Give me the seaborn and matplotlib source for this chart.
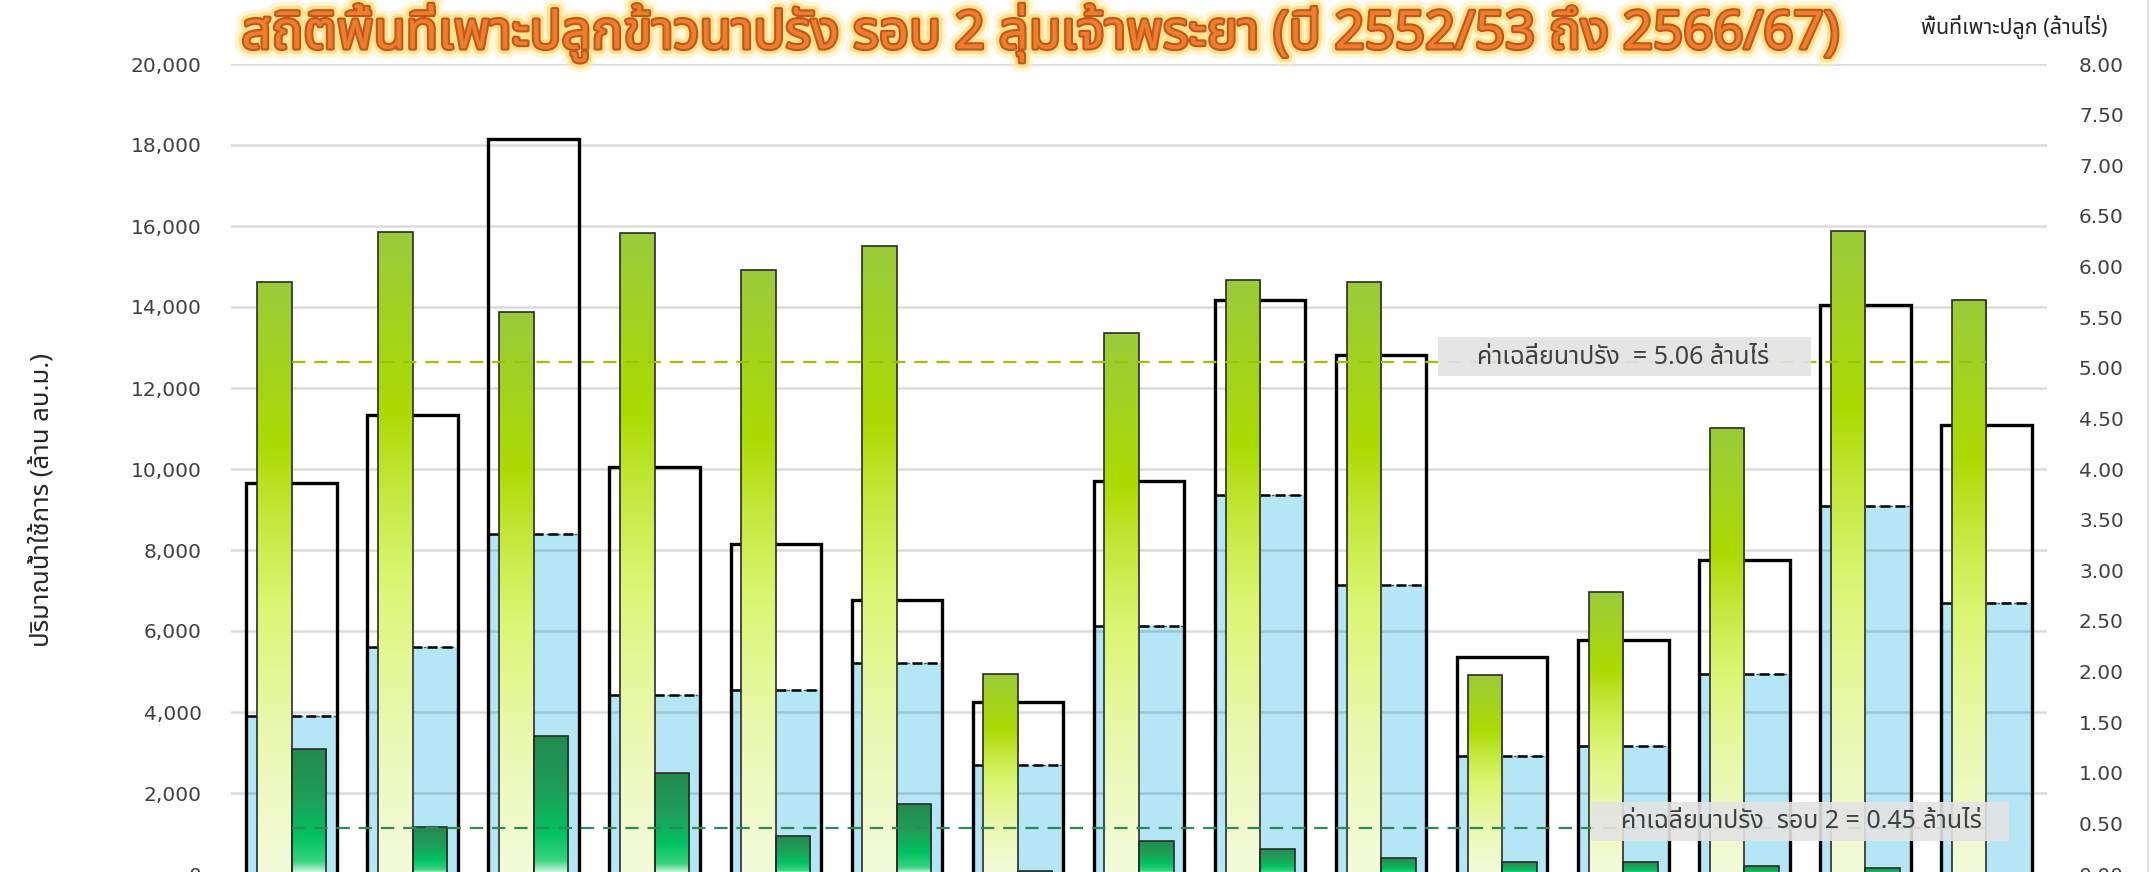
import numpy as np
import pandas as pd
import matplotlib
matplotlib.use("Agg")
import matplotlib.pyplot as plt
import matplotlib.patheffects as pe
from matplotlib import font_manager
from matplotlib.colors import LinearSegmentedColormap
from matplotlib.patches import Rectangle
from matplotlib.lines import Line2D
from matplotlib.ticker import FuncFormatter
import seaborn as sns

# ---------------------------------------------------------------- data
seasons = ["2552/53", "2553/54", "2554/55", "2555/56", "2556/57",
           "2557/58", "2558/59", "2559/60", "2560/61", "2561/62",
           "2562/63", "2563/64", "2564/65", "2565/66", "2566/67"]
# usable water (million m3): start of season and amount used
water_total = [9660, 11340, 18150, 10060, 8140, 6770, 4240, 9700,
               14170, 12820, 5370, 5770, 7750, 14060, 11080]
water_used = [3900, 5600, 8400, 4410, 4550, 5200, 2680, 6120,
              9360, 7140, 2920, 3160, 4950, 9090, 6680]
# planted area (million rai)
area_offseason = [5.85, 6.34, 5.55, 6.33, 5.97, 6.20, 1.98, 5.34,
                  5.87, 5.85, 1.97, 2.79, 4.40, 6.35, 5.67]
area_round2 = [1.23, 0.46, 1.36, 1.00, 0.38, 0.69, 0.03, 0.33,
               0.25, 0.16, 0.12, 0.12, 0.075, 0.06, np.nan]
avg_offseason = 5.06
avg_round2 = 0.45

left_ticks = list(range(0, 20001, 2000))
right_ticks = [i * 0.5 for i in range(17)]

title_text = "สถิติพื้นที่เพาะปลูกข้าวนาปรัง รอบ 2 ลุ่มเจ้าพระยา (ปี 2552/53 ถึง 2566/67)"
left_label = "ปริมาณน้ำใช้การ (ล้าน ลบ.ม.)"
right_label = "พื้นที่เพาะปลูก (ล้านไร่)"
series_names = ["นาปรัง", "นาปรัง รอบ 2"]
avg_text_1 = f"ค่าเฉลี่ยนาปรัง  = {avg_offseason:.2f} ล้านไร่"
avg_text_2 = f"ค่าเฉลี่ยนาปรัง  รอบ 2 = {avg_round2:.2f} ล้านไร่"


# ---------------------------------------------------------------- fonts
def find_thai_families():
    try:
        from fontTools.ttLib import TTFont
    except Exception:
        return []
    names = []
    for f in font_manager.fontManager.ttflist:
        if f.name in names:
            continue
        try:
            tt = TTFont(f.fname, fontNumber=0, lazy=True)
            cmap = tt.getBestCmap() or {}
            if 0x0E01 in cmap and 0x0E48 in cmap:
                names.append(f.name)
        except Exception:
            pass
    return names


thai = find_thai_families()
preferred = ["Tahoma", "Leelawadee UI", "Noto Sans Thai", "Noto Sans Thai UI",
             "Noto Sans Thai Looped", "Sarabun", "Kanit", "Prompt", "Loma",
             "Garuda", "Waree", "Umpush", "Norasi", "DejaVu Sans"]
thai_family = next((p for p in preferred if p in thai), thai[0] if thai else "DejaVu Sans")

sns.set_theme(style="white")
plt.rcParams["font.family"] = [thai_family, "DejaVu Sans"]

# ---------------------------------------------------------------- figure
W, H = 2151, 872
fig = plt.figure(figsize=(W / 100, H / 100), dpi=100)
ax = fig.add_axes([231 / W, -2 / H, (2047 - 231) / W, (874 - 64) / H])
ax2 = ax.twinx()

n = len(seasons)
box_w = 0.748

# water used (light blue) and usable water (open box) on the left axis
sns.barplot(x=seasons, y=water_used, ax=ax, color="#b4e6f6", saturation=1,
            width=box_w, errorbar=None, edgecolor="#2b5f7a", linewidth=1.0,
            linestyle=(0, (2, 2)))
sns.barplot(x=seasons, y=water_total, ax=ax, fill=False, color="black",
            width=box_w, errorbar=None, linewidth=2.4)
blue_bars = ax.containers[0]
box_bars = ax.containers[1]
for p in box_bars:
    p.set_zorder(3)
for p in blue_bars:
    ax.hlines(p.get_height(), p.get_x(), p.get_x() + p.get_width(),
              colors="black", linestyles=(0, (4, 2)), lw=1.8, zorder=3.2)

ax.set_ylim(0, 20000)
ax.set_yticks(left_ticks)
ax.yaxis.set_major_formatter(FuncFormatter(lambda v, _: f"{int(v):,}"))
ax.grid(axis="y", color="black", alpha=0.14, lw=1.8)
ax.grid(axis="x", visible=False)
ax.set_axisbelow("line")

# planted areas on the right axis
area_df = pd.DataFrame({
    "season": seasons * 2,
    "series": [series_names[0]] * n + [series_names[1]] * n,
    "area": area_offseason + area_round2,
})
sns.barplot(data=area_df, x="season", y="area", hue="series",
            hue_order=series_names, palette=["#9acb3a", "#238a4e"],
            saturation=1, width=0.57, dodge=True, errorbar=None,
            legend=False, ax=ax2, edgecolor="#2b2b2b", linewidth=1.2)

green_cmap = LinearSegmentedColormap.from_list("offseason", [
    (0.00, "#f4fbdc"), (0.25, "#e9f8ac"), (0.45, "#dcf674"),
    (0.60, "#c4e83c"), (0.72, "#acdb02"), (1.00, "#9acb3a")])
dark_cmap = LinearSegmentedColormap.from_list("round2", [
    (0.00, "#e6faee"), (0.10, "#36d47e"), (0.30, "#00c262"),
    (0.60, "#1f9f58"), (1.00, "#238a4e")])


def gradient_fill(axis, bars, cmap):
    grad = np.linspace(0, 1, 256).reshape(-1, 1)
    for p in bars:
        h = p.get_height()
        if not np.isfinite(h) or h <= 0:
            continue
        x, y, w = p.get_x(), p.get_y(), p.get_width()
        im = axis.imshow(grad, cmap=cmap, origin="lower", aspect="auto",
                         extent=[x, x + w, y, y + h], interpolation="bilinear",
                         zorder=2)
        im.set_clip_path(p)
        p.set_facecolor("none")
        p.set_zorder(2.5)


gradient_fill(ax2, ax2.containers[0], green_cmap)
gradient_fill(ax2, ax2.containers[1], dark_cmap)

# average lines
xs = np.arange(n)
sns.lineplot(x=xs, y=[avg_offseason] * n, ax=ax2, color="#9cc400", lw=1.6,
             linestyle=(0, (6, 4)), zorder=4)
sns.lineplot(x=xs, y=[avg_round2] * n, ax=ax2, color="#2e8b57", lw=1.6,
             linestyle=(0, (6, 4)), zorder=4)

ax2.set_ylim(0, 8)
ax2.set_yticks(right_ticks)
ax2.yaxis.set_major_formatter(FuncFormatter(lambda v, _: f"{v:.2f}"))
ax2.grid(False)
ax.set_xlim(-0.5, n - 0.5)

# average labels
ax2.add_patch(Rectangle((9.467, 4.918), 3.083, 0.386, facecolor="#e3e3e3",
                        edgecolor="none", alpha=0.9, zorder=5))
ax2.text(11.0, 5.10, avg_text_1, ha="center", va="center", fontsize=18,
         color="#404040", zorder=6)
ax2.add_patch(Rectangle((10.73, 0.326), 3.46, 0.385, facecolor="#e3e3e3",
                        edgecolor="none", alpha=0.9, zorder=5))
ax2.text(12.47, 0.515, avg_text_2, ha="center", va="center", fontsize=18,
         color="#404040", zorder=6)

# axes styling
for a in (ax, ax2):
    for s in a.spines.values():
        s.set_visible(False)
    a.set_xlabel("")
    a.set_ylabel("")
ax.tick_params(axis="y", length=0, pad=21, labelsize=14.5, labelcolor="#404040")
ax2.tick_params(axis="y", length=0, pad=23, labelsize=14.5, labelcolor="#404040")
ax.tick_params(axis="x", length=0, labelbottom=False)
for t in ax.get_yticklabels() + ax2.get_yticklabels():
    t.set_family("DejaVu Sans")

ax.set_ylabel(left_label, fontsize=18.5, color="#262626")
ax.yaxis.set_label_coords(-0.097, 0.462)
fig.text(2014 / W, 1 - 27 / H, right_label, ha="center", va="center",
         fontsize=15.5, color="#262626")

fig.text(1041 / W, 1 - 33 / H, title_text, ha="center", va="center",
         fontsize=38, fontweight="bold", color="#ee7d2c",
         path_effects=[pe.Stroke(linewidth=14, foreground="#ffeeb0", alpha=0.5),
                       pe.Stroke(linewidth=8, foreground="#ffd970", alpha=0.7),
                       pe.Stroke(linewidth=3, foreground="#c0561a"),
                       pe.Normal()])

fig.add_artist(Line2D([2148 / W, 2148 / W], [0, 1], color="#d9d9d9", lw=1.2))

fig.savefig("out.png", dpi=100)
